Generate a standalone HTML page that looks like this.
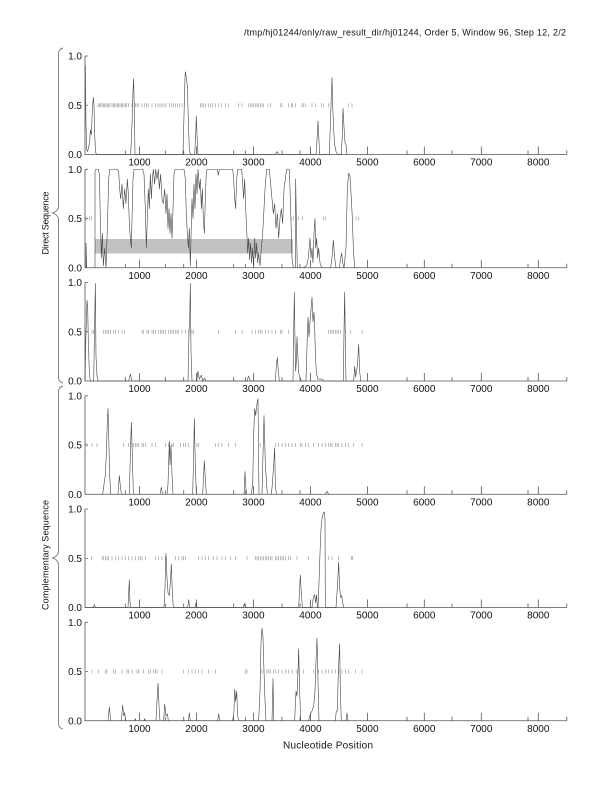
<!DOCTYPE html>
<html><head><meta charset="utf-8">
<style>
html,body{margin:0;padding:0;background:#fff;}
svg{display:block;}
text{font-family:"Liberation Sans",Arial,sans-serif;fill:#111;}
.ax{fill:none;stroke:#555;stroke-width:0.8;}
.d{fill:none;stroke:#444;stroke-width:0.6;vector-effect:non-scaling-stroke;stroke-linejoin:round;}
.t{fill:none;stroke:#a0a0a0;stroke-width:0.7;vector-effect:non-scaling-stroke;}
.yl{font-size:10px;text-anchor:end;}
.xl{font-size:10px;text-anchor:middle;}
.br{fill:none;stroke:#777;stroke-width:0.9;}
</style></head>
<body>
<svg width="612" height="792" viewBox="0 0 612 792" xmlns="http://www.w3.org/2000/svg">
<rect width="612" height="792" fill="#fff"/>

<text x="566" y="35.5" font-size="9" text-anchor="end" textLength="322" lengthAdjust="spacing">/tmp/hj01244/only/raw_result_dir/hj01244, Order 5, Window 96, Step 12, 2/2</text>

<!-- braces -->
<path class="br" d="M63 48 Q58.5 49 58.5 54 L58.5 206 Q58.5 211 52.5 213 Q58.5 215 58.5 220 L58.5 377 Q58.5 382 63 383"/>
<path class="br" d="M63 386 Q58.5 387 58.5 392 L58.5 551 Q58.5 556 52.5 558 Q58.5 560 58.5 565 L58.5 723 Q58.5 728 63 729"/>
<text transform="translate(48.5,223) rotate(-90)" font-size="9" text-anchor="middle" textLength="63" lengthAdjust="spacing">Direct Sequence</text>
<text transform="translate(48.5,555) rotate(-90)" font-size="9" text-anchor="middle" textLength="110" lengthAdjust="spacing">Complementary Sequence</text>

<text x="328" y="748.5" font-size="10" text-anchor="middle" textLength="90" lengthAdjust="spacing">Nucleotide Position</text>

<!-- Panel 2 grey band -->
<rect x="95" y="239" width="198" height="14.5" fill="#c2c2c2"/>

<!-- Axes for 6 panels -->
<g transform="translate(0,154.5)">
<path class="ax" d="M85 -98.5V0H566.8"/>
<path class="ax" d="M85 -98.5h3M85 -49.25h3M139.5 0v-8M196.4 0v-8M253.4 0v-8M310.4 0v-8M367.4 0v-8M424.3 0v-8M481.3 0v-8M538.3 0v-8M566.8 0v-4M125.3 0v-4M165.3 0v-4M183.7 0v-4M233.7 0v-4M245.3 0v-4M282 0v-4M300 0v-4M407 0v-4M452 0v-4M528 0v-4"/>
<text class="yl" x="82" y="-95">1.0</text><text class="yl" x="82" y="-45.75">0.5</text><text class="yl" x="82" y="3.5">0.0</text>
<text class="xl" x="139.5" y="11">1000</text><text class="xl" x="196.4" y="11">2000</text><text class="xl" x="253.4" y="11">3000</text><text class="xl" x="310.4" y="11">4000</text><text class="xl" x="367.4" y="11">5000</text><text class="xl" x="424.3" y="11">6000</text><text class="xl" x="481.3" y="11">7000</text><text class="xl" x="538.3" y="11">8000</text>
</g>
<g transform="translate(0,267.75)">
<path class="ax" d="M85 -98.5V0H566.8"/>
<path class="ax" d="M85 -98.5h3M85 -49.25h3M139.5 0v-8M196.4 0v-8M253.4 0v-8M310.4 0v-8M367.4 0v-8M424.3 0v-8M481.3 0v-8M538.3 0v-8M566.8 0v-4M125.3 0v-4M165.3 0v-4M183.7 0v-4M233.7 0v-4M245.3 0v-4M282 0v-4M300 0v-4M407 0v-4M452 0v-4M528 0v-4"/>
<text class="yl" x="82" y="-95">1.0</text><text class="yl" x="82" y="-45.75">0.5</text><text class="yl" x="82" y="3.5">0.0</text>
<text class="xl" x="139.5" y="11">1000</text><text class="xl" x="196.4" y="11">2000</text><text class="xl" x="253.4" y="11">3000</text><text class="xl" x="310.4" y="11">4000</text><text class="xl" x="367.4" y="11">5000</text><text class="xl" x="424.3" y="11">6000</text><text class="xl" x="481.3" y="11">7000</text><text class="xl" x="538.3" y="11">8000</text>
</g>
<g transform="translate(0,381)">
<path class="ax" d="M85 -98.5V0H566.8"/>
<path class="ax" d="M85 -98.5h3M85 -49.25h3M139.5 0v-8M196.4 0v-8M253.4 0v-8M310.4 0v-8M367.4 0v-8M424.3 0v-8M481.3 0v-8M538.3 0v-8M566.8 0v-4M125.3 0v-4M165.3 0v-4M183.7 0v-4M233.7 0v-4M245.3 0v-4M282 0v-4M300 0v-4M407 0v-4M452 0v-4M528 0v-4"/>
<text class="yl" x="82" y="-95">1.0</text><text class="yl" x="82" y="-45.75">0.5</text><text class="yl" x="82" y="3.5">0.0</text>
<text class="xl" x="139.5" y="11">1000</text><text class="xl" x="196.4" y="11">2000</text><text class="xl" x="253.4" y="11">3000</text><text class="xl" x="310.4" y="11">4000</text><text class="xl" x="367.4" y="11">5000</text><text class="xl" x="424.3" y="11">6000</text><text class="xl" x="481.3" y="11">7000</text><text class="xl" x="538.3" y="11">8000</text>
</g>
<g transform="translate(0,494.25)">
<path class="ax" d="M85 -98.5V0H566.8"/>
<path class="ax" d="M85 -98.5h3M85 -49.25h3M139.5 0v-8M196.4 0v-8M253.4 0v-8M310.4 0v-8M367.4 0v-8M424.3 0v-8M481.3 0v-8M538.3 0v-8M566.8 0v-4M125.3 0v-4M165.3 0v-4M183.7 0v-4M233.7 0v-4M245.3 0v-4M282 0v-4M300 0v-4M407 0v-4M452 0v-4M528 0v-4"/>
<text class="yl" x="82" y="-95">1.0</text><text class="yl" x="82" y="-45.75">0.5</text><text class="yl" x="82" y="3.5">0.0</text>
<text class="xl" x="139.5" y="11">1000</text><text class="xl" x="196.4" y="11">2000</text><text class="xl" x="253.4" y="11">3000</text><text class="xl" x="310.4" y="11">4000</text><text class="xl" x="367.4" y="11">5000</text><text class="xl" x="424.3" y="11">6000</text><text class="xl" x="481.3" y="11">7000</text><text class="xl" x="538.3" y="11">8000</text>
</g>
<g transform="translate(0,607.5)">
<path class="ax" d="M85 -98.5V0H566.8"/>
<path class="ax" d="M85 -98.5h3M85 -49.25h3M139.5 0v-8M196.4 0v-8M253.4 0v-8M310.4 0v-8M367.4 0v-8M424.3 0v-8M481.3 0v-8M538.3 0v-8M566.8 0v-4M125.3 0v-4M165.3 0v-4M183.7 0v-4M233.7 0v-4M245.3 0v-4M282 0v-4M300 0v-4M407 0v-4M452 0v-4M528 0v-4"/>
<text class="yl" x="82" y="-95">1.0</text><text class="yl" x="82" y="-45.75">0.5</text><text class="yl" x="82" y="3.5">0.0</text>
<text class="xl" x="139.5" y="11">1000</text><text class="xl" x="196.4" y="11">2000</text><text class="xl" x="253.4" y="11">3000</text><text class="xl" x="310.4" y="11">4000</text><text class="xl" x="367.4" y="11">5000</text><text class="xl" x="424.3" y="11">6000</text><text class="xl" x="481.3" y="11">7000</text><text class="xl" x="538.3" y="11">8000</text>
</g>
<g transform="translate(0,720.75)">
<path class="ax" d="M85 -98.5V0H566.8"/>
<path class="ax" d="M85 -98.5h3M85 -49.25h3M139.5 0v-8M196.4 0v-8M253.4 0v-8M310.4 0v-8M367.4 0v-8M424.3 0v-8M481.3 0v-8M538.3 0v-8M566.8 0v-4M125.3 0v-4M165.3 0v-4M183.7 0v-4M233.7 0v-4M245.3 0v-4M282 0v-4M300 0v-4M407 0v-4M452 0v-4M528 0v-4"/>
<text class="yl" x="82" y="-95">1.0</text><text class="yl" x="82" y="-45.75">0.5</text><text class="yl" x="82" y="3.5">0.0</text>
<text class="xl" x="139.5" y="11">1000</text><text class="xl" x="196.4" y="11">2000</text><text class="xl" x="253.4" y="11">3000</text><text class="xl" x="310.4" y="11">4000</text><text class="xl" x="367.4" y="11">5000</text><text class="xl" x="424.3" y="11">6000</text><text class="xl" x="481.3" y="11">7000</text><text class="xl" x="538.3" y="11">8000</text>
</g>

<!-- Panel 1 data -->
<g transform="translate(82,154.5) scale(0.33333,-98.5)">
<path class="t" d="M48 0.48V0.52M52 0.48V0.52M56 0.48V0.52M60 0.48V0.52M64 0.48V0.52M68 0.48V0.52M72 0.48V0.52M76 0.48V0.52M80 0.48V0.52M84 0.48V0.52M90 0.48V0.52M94 0.48V0.52M98 0.48V0.52M102 0.48V0.52M106 0.48V0.52M110 0.48V0.52M114 0.48V0.52M118 0.48V0.52M122 0.48V0.52M126 0.48V0.52M130 0.48V0.52M134 0.48V0.52M140 0.48V0.52M150 0.48V0.52M160 0.48V0.52M165 0.48V0.52M170 0.48V0.52M180 0.48V0.52M188 0.48V0.52M193 0.48V0.52M198 0.48V0.52M210 0.48V0.52M220 0.48V0.52M228 0.48V0.52M234 0.48V0.52M240 0.48V0.52M246 0.48V0.52M252 0.48V0.52M262 0.48V0.52M268 0.48V0.52M274 0.48V0.52M280 0.48V0.52M286 0.48V0.52M292 0.48V0.52M300 0.48V0.52M355 0.48V0.52M360 0.48V0.52M365 0.48V0.52M370 0.48V0.52M380 0.48V0.52M385 0.48V0.52M392 0.48V0.52M400 0.48V0.52M410 0.48V0.52M418 0.48V0.52M430 0.48V0.52M440 0.48V0.52M470 0.48V0.52M480 0.48V0.52M500 0.48V0.52M505 0.48V0.52M510 0.48V0.52M515 0.48V0.52M520 0.48V0.52M525 0.48V0.52M530 0.48V0.52M535 0.48V0.52M540 0.48V0.52M545 0.48V0.52M558 0.48V0.52M565 0.48V0.52M595 0.48V0.52M600 0.48V0.52M620 0.48V0.52M628 0.48V0.52M632 0.48V0.52M640 0.48V0.52M660 0.48V0.52M665 0.48V0.52M670 0.48V0.52M690 0.48V0.52M700 0.48V0.52M718 0.48V0.52M725 0.48V0.52M740 0.48V0.52M800 0.48V0.52M810 0.48V0.52"/>
<polyline class="d" points="9,0.85 10,0.9 12,0.3 14,0.05 17,0.03 20,0.08 23,0.12 25,0.25 28,0.2 31,0.45 34,0.58 36,0.5 38,0.2 41,0.02 44,0 146,0 150,0.3 153,0.65 155,0.77 157,0.45 159,0 303,0 306,0.4 309,0.78 310,0.84 313,0.78 316,0.7 319,0.35 322,0.04 326,0 338,0 341,0.2 343,0.39 345,0.2 348,0 580,0 585,0.03 590,0 702,0 705,0.15 708,0.34 710,0.2 713,0 742,0 745,0.3 748,0.6 750,0.78 752,0.5 755,0.25 758,0.1 762,0.03 768,0 778,0 781,0.2 783,0.47 786,0.28 789,0.12 792,0.1 795,0"/>
</g>

<!-- Panel 2 data (zoom-3 coordinates, offset 60) -->
<g transform="translate(60,267.75) scale(0.33333,-98.5)">
<path class="t" d="M80 0.48V0.52M88 0.48V0.52M95 0.48V0.52M693 0.48V0.52M700 0.48V0.52M716 0.48V0.52M728 0.48V0.52M790 0.48V0.52M797 0.48V0.52M888 0.48V0.52M896 0.48V0.52"/>
<polyline class="d" points="78,0 78,0.25 80,0"/>
<polyline class="d" points="100,0 105,0 105,0.98 108,1 115,1 118,0.95 121,0.5 124,0.1 127,0.35 130,0.02 134,0.2 138,0 142,0.4 146,0.9 149,1 170,1 176,0.98 179,0.8 182,0.7 186,0.85 190,0.6 194,0.8 198,0.65 202,0.9 205,0.75 208,0.45 211,0.3 214,0.2 216,0.5 219,0.9 222,1 248,1 252,0.95 256,0.6 259,0.2 262,0.5 265,0.8 268,0.6 271,0.95 274,0.7 277,0.9 280,1 284,0.85 287,1 291,0.9 295,1 298,0.8 302,0.95 306,0.7 310,0.65 314,0.8 318,0.55 321,0.75 324,0.4 327,0.6 330,0.35 333,0.55 336,0.3 339,0.6 342,0.95 345,1 372,1 376,0.9 379,0.55 382,0.35 385,0.2 388,0.4 391,0.02 393,0.3 396,0.7 399,0.5 402,0.85 405,0.6 408,0.95 411,0.75 414,1 418,0.8 421,0.9 424,0.6 427,0.8 430,0.5 433,0.35 436,0.7 439,0.98 442,1 472,1 475,0.94 478,1 518,1 521,0.9 524,0.7 527,0.6 530,0.9 533,1 545,1 548,0.85 551,0.7 554,0.9 557,0.6 560,0.4 563,0.15 566,0.3 569,0.08 572,0.25 575,0.05 578,0.2 581,0.02 584,0.3 587,0.1 590,0.25 593,0.05 596,0.15 600,0.02 604,0.2 608,0.35 612,0.6 616,0.85 620,1 628,1 632,0.85 636,0.7 640,0.55 644,0.65 648,0.4 652,0.55 656,0.3 660,0.5 664,0.6 668,0.45 672,0.8 676,0.9 680,1 688,1 692,0.6 696,0.1 700,0 706,0 707,0.9 710,0.3 712,0 730,0 740,0.02 745,0.1 750,0.3 753,0.1 756,0.2 759,0.05 762,0.35 765,0.5 767,0.2 770,0.3 773,0.1 776,0.2 780,0.05 785,0 812,0 816,0.1 820,0.28 824,0.1 828,0 838,0 842,0.1 845,0.15 848,0.05 852,0 858,0.2 862,0.8 866,0.96 870,0.93 874,0.7 877,0.5 880,0.2 884,0 900,0"/>
</g>

<!-- Panel 3 data -->
<g transform="translate(82,381) scale(0.33333,-98.5)">
<path class="t" d="M30 0.48V0.52M35 0.48V0.52M65 0.48V0.52M70 0.48V0.52M75 0.48V0.52M80 0.48V0.52M85 0.48V0.52M95 0.48V0.52M100 0.48V0.52M110 0.48V0.52M120 0.48V0.52M128 0.48V0.52M180 0.48V0.52M185 0.48V0.52M195 0.48V0.52M200 0.48V0.52M210 0.48V0.52M215 0.48V0.52M220 0.48V0.52M230 0.48V0.52M235 0.48V0.52M240 0.48V0.52M245 0.48V0.52M250 0.48V0.52M260 0.48V0.52M265 0.48V0.52M270 0.48V0.52M275 0.48V0.52M280 0.48V0.52M285 0.48V0.52M290 0.48V0.52M300 0.48V0.52M310 0.48V0.52M320 0.48V0.52M330 0.48V0.52M335 0.48V0.52M410 0.48V0.52M460 0.48V0.52M480 0.48V0.52M510 0.48V0.52M520 0.48V0.52M530 0.48V0.52M535 0.48V0.52M540 0.48V0.52M550 0.48V0.52M560 0.48V0.52M570 0.48V0.52M580 0.48V0.52M595 0.48V0.52M600 0.48V0.52M620 0.48V0.52M740 0.48V0.52M745 0.48V0.52M750 0.48V0.52M755 0.48V0.52M760 0.48V0.52M765 0.48V0.52M770 0.48V0.52M775 0.48V0.52M790 0.48V0.52M805 0.48V0.52M840 0.48V0.52"/>
<polyline class="d" points="9,0 12,0.5 15,0.82 17,0.75 19,0.4 22,0.08 25,0 35,0 38,0.6 40,0.99 42,0.25 45,0.05 48,0 140,0 145,0.07 150,0 318,0 321,0.5 323,0.62 325,0.99 327,0.3 330,0 344,0 348,0.1 352,0.02 358,0.06 362,0 368,0.03 372,0 495,0 500,0.05 505,0 580,0 583,0.15 586,0.24 589,0.1 592,0 633,0 635,0.5 637,0.9 639,0.4 641,0.1 643,0.2 645,0.45 647,0.3 650,0.08 654,0.04 658,0 672,0 675,0.35 678,0.65 681,0.45 684,0.6 687,0.72 690,0.85 693,0.6 696,0.7 698,0.55 700,0.3 703,0.08 708,0.02 720,0.02 725,0 784,0 786,0.5 788,0.9 790,0.4 792,0 815,0 818,0.15 821,0.04 826,0.15 830,0.37 833,0.1 836,0"/>
</g>

<!-- Panel 4 data -->
<g transform="translate(82,494.25) scale(0.33333,-98.5)">
<path class="t" d="M15 0.48V0.52M30 0.48V0.52M45 0.48V0.52M125 0.48V0.52M140 0.48V0.52M150 0.48V0.52M155 0.48V0.52M160 0.48V0.52M165 0.48V0.52M170 0.48V0.52M180 0.48V0.52M185 0.48V0.52M190 0.48V0.52M210 0.48V0.52M220 0.48V0.52M250 0.48V0.52M260 0.48V0.52M270 0.48V0.52M275 0.48V0.52M295 0.48V0.52M305 0.48V0.52M310 0.48V0.52M320 0.48V0.52M345 0.48V0.52M350 0.48V0.52M400 0.48V0.52M410 0.48V0.52M420 0.48V0.52M440 0.48V0.52M460 0.48V0.52M535 0.48V0.52M580 0.48V0.52M590 0.48V0.52M600 0.48V0.52M610 0.48V0.52M620 0.48V0.52M630 0.48V0.52M640 0.48V0.52M655 0.48V0.52M660 0.48V0.52M670 0.48V0.52M680 0.48V0.52M695 0.48V0.52M710 0.48V0.52M720 0.48V0.52M730 0.48V0.52M740 0.48V0.52M745 0.48V0.52M750 0.48V0.52M760 0.48V0.52M765 0.48V0.52M770 0.48V0.52M780 0.48V0.52M790 0.48V0.52M800 0.48V0.52M815 0.48V0.52M840 0.48V0.52"/>
<polyline class="d" points="9,0 62,0 66,0.1 70,0.2 73,0.4 76,0.75 78,0.87 80,0.6 83,0.2 86,0 108,0 112,0.19 116,0.05 119,0 142,0 145,0.4 148,0.73 151,0.4 154,0 234,0 238,0.07 242,0 255,0 258,0.1 262,0.54 264,0.3 267,0.5 270,0.2 273,0 332,0 335,0.4 337,0.77 340,0.3 343,0 362,0 365,0.2 367,0.34 370,0.15 373,0 486,0 489,0.23 492,0.05 495,0 508,0 512,0.1 515,0.6 518,0.87 521,0.8 524,0.9 528,0.97 530,0.3 531,0 540,0 543,0.4 546,0.8 548,0.55 550,0.3 553,0.15 556,0 568,0 571,0.1 575,0.3 578,0.47 580,0.1 583,0 730,0 735,0.03 740,0"/>
</g>

<!-- Panel 5 data -->
<g transform="translate(82,607.5) scale(0.33333,-98.5)">
<path class="t" d="M10 0.48V0.52M28 0.48V0.52M60 0.48V0.52M65 0.48V0.52M70 0.48V0.52M75 0.48V0.52M80 0.48V0.52M90 0.48V0.52M100 0.48V0.52M110 0.48V0.52M120 0.48V0.52M130 0.48V0.52M140 0.48V0.52M150 0.48V0.52M160 0.48V0.52M170 0.48V0.52M175 0.48V0.52M180 0.48V0.52M190 0.48V0.52M220 0.48V0.52M230 0.48V0.52M240 0.48V0.52M250 0.48V0.52M280 0.48V0.52M290 0.48V0.52M300 0.48V0.52M305 0.48V0.52M310 0.48V0.52M350 0.48V0.52M360 0.48V0.52M370 0.48V0.52M380 0.48V0.52M395 0.48V0.52M405 0.48V0.52M420 0.48V0.52M430 0.48V0.52M445 0.48V0.52M460 0.48V0.52M495 0.48V0.52M520 0.48V0.52M525 0.48V0.52M530 0.48V0.52M535 0.48V0.52M540 0.48V0.52M545 0.48V0.52M550 0.48V0.52M555 0.48V0.52M560 0.48V0.52M565 0.48V0.52M570 0.48V0.52M580 0.48V0.52M585 0.48V0.52M590 0.48V0.52M595 0.48V0.52M600 0.48V0.52M605 0.48V0.52M610 0.48V0.52M620 0.48V0.52M625 0.48V0.52M645 0.48V0.52M680 0.48V0.52M740 0.48V0.52M750 0.48V0.52M770 0.48V0.52M808 0.48V0.52M812 0.48V0.52"/>
<polyline class="d" points="9,0 34,0 37,0.03 40,0 138,0 140,0.15 142,0.28 144,0.05 146,0 246,0 249,0.2 252,0.55 255,0.3 258,0.15 262,0.12 265,0.25 268,0.44 271,0.15 274,0 317,0 320,0.08 323,0 339,0 342,0.05 345,0 484,0 487,0.04 490,0 650,0 653,0.2 655,0.33 658,0.15 661,0 690,0 694,0.1 698,0.13 701,0.05 704,0.13 706,0 708,0 711,0.25 714,0.55 717,0.8 720,0.9 723,0.95 727,0.97 729,0.9 730,0 762,0 766,0.2 770,0.46 773,0.2 776,0.1 779,0.12 782,0.05 786,0"/>
</g>

<!-- Panel 6 data -->
<g transform="translate(82,720.75) scale(0.33333,-98.5)">
<path class="t" d="M10 0.48V0.52M30 0.48V0.52M50 0.48V0.52M70 0.48V0.52M75 0.48V0.52M95 0.48V0.52M100 0.48V0.52M120 0.48V0.52M135 0.48V0.52M140 0.48V0.52M150 0.48V0.52M165 0.48V0.52M170 0.48V0.52M185 0.48V0.52M200 0.48V0.52M205 0.48V0.52M215 0.48V0.52M220 0.48V0.52M225 0.48V0.52M240 0.48V0.52M305 0.48V0.52M320 0.48V0.52M330 0.48V0.52M340 0.48V0.52M350 0.48V0.52M360 0.48V0.52M380 0.48V0.52M400 0.48V0.52M490 0.48V0.52M495 0.48V0.52M540 0.48V0.52M555 0.48V0.52M560 0.48V0.52M565 0.48V0.52M575 0.48V0.52M580 0.48V0.52M590 0.48V0.52M600 0.48V0.52M610 0.48V0.52M620 0.48V0.52M630 0.48V0.52M645 0.48V0.52M665 0.48V0.52M695 0.48V0.52M710 0.48V0.52M720 0.48V0.52M730 0.48V0.52M740 0.48V0.52M750 0.48V0.52M760 0.48V0.52M770 0.48V0.52M780 0.48V0.52M790 0.48V0.52M800 0.48V0.52M820 0.48V0.52M840 0.48V0.52"/>
<polyline class="d" points="9,0 78,0 82,0.14 86,0 118,0 122,0.16 125,0.05 128,0.08 131,0 158,0 160,0.02 162,0 186,0 188,0.02 190,0 222,0 225,0.2 228,0.38 231,0.15 234,0 245,0 248,0.17 252,0.05 256,0.07 259,0 319,0 322,0.08 325,0 407,0 410,0.07 413,0 452,0 456,0.1 458,0.32 461,0.2 464,0.3 467,0.05 470,0 530,0 534,0.3 537,0.8 540,0.94 543,0.85 546,0.5 549,0.2 552,0 570,0 573,0.43 575,0 638,0 642,0.3 645,0.25 648,0.5 650,0.73 653,0.3 656,0 680,0 685,0.07 690,0.1 695,0.15 699,0.3 702,0.6 705,0.84 708,0.4 711,0 760,0 763,0.1 766,0.1 769,0.5 773,0.78 775,0.3 778,0 792,0 795,0.08 798,0"/>
</g>
</svg>
</body></html>
